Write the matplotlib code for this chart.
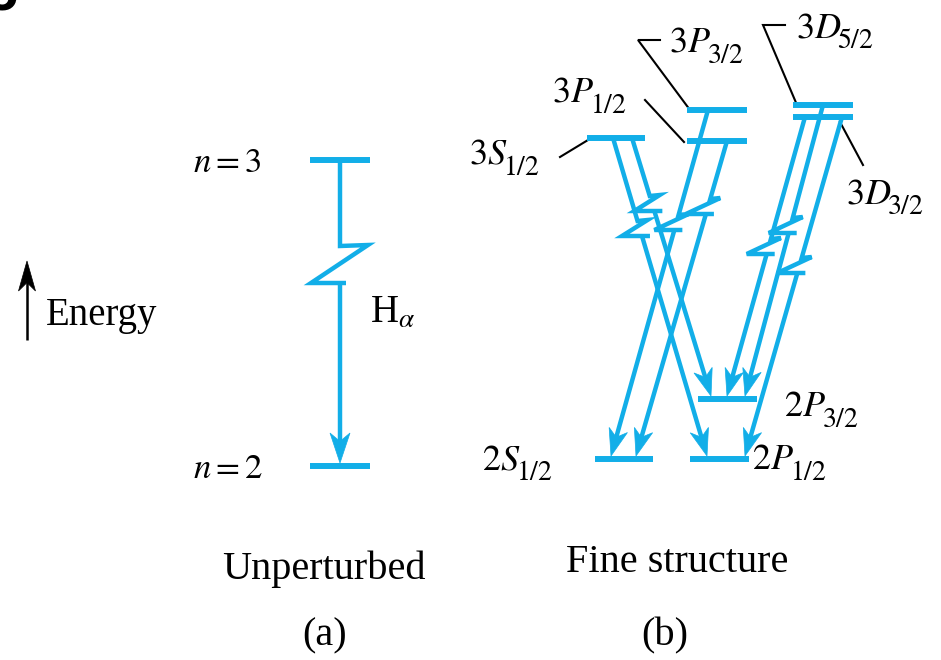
import numpy as np
import matplotlib
matplotlib.use("Agg")
import matplotlib.pyplot as plt
from matplotlib.patches import Polygon

plt.rcParams['font.family'] = ['Liberation Serif', 'DejaVu Serif']
plt.rcParams['mathtext.fontset'] = 'stix'

BLUE = '#12AEE8'

# ---------------- data (diagram units = pixels of the 941x660 canvas) ----------------
# (a) unperturbed levels
a_names = [r'$n=3$', r'$n=2$']
a_x0 = [310, 310]
a_x1 = [370, 370]
a_y = [160, 466]

# (b) fine-structure levels
fs_names = ['3S1/2', '3P1/2', '3P3/2', '3D3/2', '3D5/2', '2S1/2', '2P1/2', '2P3/2']
fs_main = ['3S', '3P', '3P', '3D', '3D', '2S', '2P', '2P']
fs_sub = ['1/2', '1/2', '3/2', '3/2', '5/2', '1/2', '1/2', '3/2']
fs_x0 = [587, 687, 687, 793, 793, 595, 690, 698]
fs_x1 = [645, 747, 747, 853, 853, 653, 749, 757]
fs_y = [138, 141, 110, 117, 105, 459, 459, 399]
fs_label_x = [469, 552, 669, 846, 796, 482, 752, 784]
fs_label_base = [164, 102, 52, 203, 37, 469, 469, 416]

# transitions: (upper, lower, x on upper level, x at arrow tip, y of zigzag)
tr_from = ['3S1/2', '3S1/2', '3P3/2', '3P1/2', '3D3/2', '3D5/2', '3D3/2']
tr_to = ['2P1/2', '2P3/2', '2S1/2', '2S1/2', '2P3/2', '2P3/2', '2P1/2']
tr_xs = [613, 632, 708, 727, 805, 823, 842]
tr_xe = [707, 711, 611, 636, 727, 745, 745]
tr_zig = [221, 196, 215, 199, 239, 218, 258]

# leader lines for labels (polylines)
leaders = [
    [(560, 157), (588, 140)],
    [(645, 100), (684, 142)],
    [(660, 40), (638, 40), (690, 110)],
    [(785, 25), (763, 25), (797, 105)],
    [(840, 122), (863, 165)],
]

fig = plt.figure(figsize=(9.41, 6.6), dpi=100)
ax = fig.add_axes([0, 0, 1, 1])
ax.set_xlim(0, 941)
ax.set_ylim(660, 0)
ax.axis('off')


def arrow_head(tip, direction, L=28, W=19, color=BLUE):
    d = np.asarray(direction, float)
    d = d / np.linalg.norm(d)
    n = np.array([-d[1], d[0]])
    tip = np.asarray(tip, float)
    back = tip - d * L
    pts = [tip, back + n * W / 2, tip - d * L * 0.72, back - n * W / 2]
    ax.add_patch(Polygon(pts, closed=True, facecolor=color, edgecolor=color, lw=0.5, zorder=4))


def transition(p0, p1, yz, h, wr, wl, tail, lw, L, W):
    p0 = np.array(p0, float)
    p1 = np.array(p1, float)
    d = p1 - p0

    def at(y):
        t = (y - p0[1]) / d[1]
        return p0 + t * d

    a = at(yz)
    b = at(yz + h)
    xs = [p0[0], a[0], a[0] + wr, b[0] - wl, b[0] + tail]
    ys = [p0[1], a[1], a[1] - 1, b[1], b[1]]
    ax.plot(xs, ys, color=BLUE, lw=lw, solid_joinstyle='miter', solid_capstyle='butt', zorder=3)
    stop = p1 - d / np.linalg.norm(d) * L * 0.6
    ax.plot([b[0], stop[0]], [b[1], stop[1]], color=BLUE, lw=lw, solid_capstyle='butt', zorder=3)
    arrow_head(p1, d, L=L, W=W)


# ---------------- (a) ----------------
for nm, x0, x1, y in zip(a_names, a_x0, a_x1, a_y):
    ax.plot([x0, x1], [y, y], color=BLUE, lw=4.3, solid_capstyle='butt', zorder=3)
    ax.text(193, y + 12, nm, fontsize=25, ha='left', va='baseline')

xa = (a_x0[0] + a_x1[0]) / 2
transition((xa, a_y[0]), (xa, a_y[1] - 3), 246, 37, 28, 29, 6, 3.2, 30, 20)
ax.text(370, 323, r'H$_\alpha$', fontsize=28, ha='left', va='baseline')

# Energy arrow
ax.plot([27, 27], [340, 280], color='black', lw=1.8, solid_capstyle='butt')
arrow_head((27, 261), (0, -1), L=30, W=17, color='black')
ax.text(46, 325, 'Energy', fontsize=28, ha='left', va='baseline')

# ---------------- (b) ----------------
lvl = {}
main_texts = []
for nm, mn, x0, x1, y, lx, ly in zip(fs_names, fs_main, fs_x0, fs_x1, fs_y, fs_label_x, fs_label_base):
    ax.plot([x0, x1], [y, y], color=BLUE, lw=4.3, solid_capstyle='butt', zorder=3)
    main_texts.append(ax.text(lx, ly, '$%s$' % mn, fontsize=26, ha='left', va='baseline'))
    lvl[nm] = y

fig.canvas.draw()
inv = ax.transData.inverted()
for t, sb, ly in zip(main_texts, fs_sub, fs_label_base):
    bb = t.get_window_extent()
    xr = inv.transform((bb.x1, bb.y0))[0]
    ax.text(xr - 4, ly + 11, '$%s$' % sb, fontsize=20, ha='left', va='baseline')

for f, t, xs, xe, yz in zip(tr_from, tr_to, tr_xs, tr_xe, tr_zig):
    transition((xs, lvl[f]), (xe, lvl[t] - 3), yz, 15, 10, 20, 8, 3.2, 27, 19)

for pl in leaders:
    px, py = zip(*pl)
    ax.plot(px, py, color='black', lw=1.5, solid_joinstyle='miter')

# captions
ax.text(324, 579, 'Unperturbed', fontsize=29, ha='center', va='baseline')
ax.text(677, 572, 'Fine structure', fontsize=29, ha='center', va='baseline')
ax.text(325, 645, '(a)', fontsize=29, ha='center', va='baseline')
ax.text(665, 645, '(b)', fontsize=29, ha='center', va='baseline')

# fragment of a cropped glyph in the top-left corner
ax.text(17, 10, '5', fontsize=40, ha='right', va='baseline', family='Liberation Sans', fontweight='bold')

fig.savefig('out.png', dpi=100)
